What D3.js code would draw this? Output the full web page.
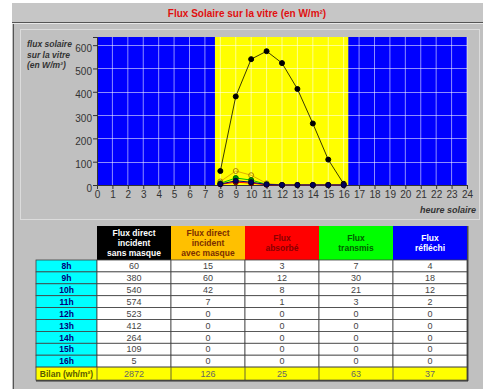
<!DOCTYPE html>
<html><head><meta charset="utf-8">
<script src="https://cdn.jsdelivr.net/npm/d3@7"></script>
<style>html,body{margin:0;padding:0;background:#fff;}svg{display:block;font-family:"Liberation Sans",Arial,sans-serif;}</style>
</head><body>
<svg id="c" width="483" height="389"></svg>
<script>
// ---- data ----
const hours = [8, 9, 10, 11, 12, 13, 14, 15, 16];
const rowLabels = ["8h","9h","10h","11h","12h","13h","14h","15h","16h"];
const sansMasque = [60, 380, 540, 574, 523, 412, 264, 109, 5];
const avecMasque = [15, 60, 42, 7, 0, 0, 0, 0, 0];
const absorbe = [3, 12, 8, 1, 0, 0, 0, 0, 0];
const transmis = [7, 30, 21, 3, 0, 0, 0, 0, 0];
const reflechi = [4, 18, 12, 2, 0, 0, 0, 0, 0];
const bilan = [2872, 126, 25, 63, 37];
const headers = [["Flux direct","incident","sans masque"],["Flux direct","incident","avec masque"],["Flux","absorbé"],["Flux","transmis"],["Flux","réfléchi"]];
const yTicks = [0, 100, 200, 300, 400, 500, 600];
const xTicks = d3.range(0, 25);
const dayStart = 7.65, dayEnd = 16.3;

const svg = d3.select("#c");
// panels
svg.append("rect").attr("x",12).attr("y",3).attr("width",471).attr("height",386).attr("fill","#c0c0c0");
svg.append("rect").attr("x",12).attr("y",3).attr("width",471).attr("height",19).attr("fill","#c6c6c6");
svg.append("line").attr("x1",12).attr("x2",483).attr("y1",22.5).attr("y2",22.5).attr("stroke","#555");
svg.append("line").attr("x1",13.5).attr("x2",13.5).attr("y1",22).attr("y2",389).attr("stroke","#555");
svg.append("line").attr("x1",12).attr("x2",483).attr("y1",23.5).attr("y2",23.5).attr("stroke","#e8e8e8");
svg.append("rect").attr("x",20.5).attr("y",29.5).attr("width",459).attr("height",190).attr("fill","none").attr("stroke","#dcdcdc");
svg.append("text").attr("x",247).attr("y",17).attr("text-anchor","middle").attr("fill","#e01010")
  .attr("font-size",10).attr("font-weight","bold").text("Flux Solaire sur la vitre (en W/m²)");

// chart
const x = d3.scaleLinear().domain([0,24]).range([97,467]);
const y = d3.scaleLinear().domain([0,635]).range([185,37]);
const g = svg.append("g");
g.append("rect").attr("x",x(0)).attr("y",y(635)).attr("width",x(24)-x(0)).attr("height",y(0)-y(635)).attr("fill","#0000ff");
g.append("rect").attr("x",x(dayStart)).attr("y",y(635)).attr("width",x(dayEnd)-x(dayStart)).attr("height",y(0)-y(635)).attr("fill","#ffff00");
// grid
g.selectAll(".vg").data(xTicks.slice(1)).join("line").attr("x1",d=>x(d)).attr("x2",d=>x(d)).attr("y1",y(635)).attr("y2",y(0))
  .attr("stroke","#ffffff").attr("stroke-opacity",0.55).attr("stroke-width",1);
g.selectAll(".hg").data(yTicks.slice(1)).join("line").attr("x1",x(0)).attr("x2",x(24)).attr("y1",d=>Math.round(y(d))+0.5).attr("y2",d=>Math.round(y(d))+0.5)
  .attr("stroke","#ffffff").attr("stroke-opacity",0.55).attr("stroke-width",1);

// axes
const xa = g.append("g").attr("transform",`translate(0,${y(0)})`).call(d3.axisBottom(x).tickValues(xTicks).tickSize(4).tickPadding(2).tickFormat(d3.format("d")));
const ya = g.append("g").attr("transform",`translate(${x(0)},0)`).call(d3.axisLeft(y).tickValues(yTicks).tickSize(4).tickPadding(1).tickFormat(d3.format("d")));
[xa,ya].forEach(a=>{a.select(".domain").attr("stroke","#333");a.selectAll(".tick line").attr("stroke","#333");
  a.selectAll("text").attr("fill","#333").attr("font-size",10).attr("font-family","Liberation Sans, Arial, sans-serif");});
ya.selectAll("text").attr("dy","0.6em");

// y label
const yl = svg.append("text").attr("x",27).attr("y",47).attr("fill","#333").attr("font-size",8.5).attr("font-weight","bold").attr("font-style","italic");
["flux solaire","sur la vitre","(en W/m²)"].forEach((t,i)=>yl.append("tspan").attr("x",27).attr("dy",i?10.5:0).text(t));
svg.append("text").attr("x",476).attr("y",213).attr("text-anchor","end").attr("fill","#333").attr("font-size",9).attr("font-weight","bold").attr("font-style","italic").text("heure solaire");

// series
const series = [
  {v:sansMasque, line:"#3a3a00", fill:"#000", stroke:"#000"},
  {v:avecMasque, line:"#e0b000", fill:"none", stroke:"#b08000"},
  {v:transmis, line:"#00c000", fill:"#00a000", stroke:"#006000"},
  {v:absorbe, line:"#ff0000", fill:"#c00000", stroke:"#600000"},
  {v:reflechi, line:"#000080", fill:"#000060", stroke:"#000030"}
];
const line = d3.line().x((d,i)=>x(hours[i])).y(d=>y(d));
series.forEach(s=>{
  g.append("path").datum(s.v).attr("d",line).attr("fill","none").attr("stroke",s.line).attr("stroke-width",1);
});
series.forEach(s=>{
  g.selectAll(null).data(s.v).join("circle").attr("cx",(d,i)=>x(hours[i])).attr("cy",d=>y(d)).attr("r",2.5)
    .attr("fill",s.fill).attr("stroke",s.stroke).attr("stroke-width",1);
});

// table
const colX = [97,171,245,319,393,467];
const labX0 = 36;
const hTop = 226, hBot = 260, rowH = 11.9;
const hdrFill = ["#000000","#ffc000","#ff0000","#00ff00","#0000ff"];
const hdrText = ["#ffffff","#7a2e00","#8a0000","#006000","#ffffff"];
const t = svg.append("g");
headers.forEach((h,c)=>{
  t.append("rect").attr("x",colX[c]).attr("y",hTop).attr("width",colX[c+1]-colX[c]).attr("height",hBot-hTop).attr("fill",hdrFill[c]);
  const cy = (hTop+hBot)/2 - (h.length-1)*10/2 + 3;
  h.forEach((s,k)=>t.append("text").attr("x",(colX[c]+colX[c+1])/2).attr("y",cy+k*10).attr("text-anchor","middle")
    .attr("fill",hdrText[c]).attr("font-size",8.5).attr("font-weight","bold").text(s));
});
const cols = [sansMasque, avecMasque, absorbe, transmis, reflechi];
rowLabels.forEach((lab,r)=>{
  const ry = hBot + r*rowH;
  t.append("rect").attr("x",labX0).attr("y",ry).attr("width",colX[0]-labX0).attr("height",rowH).attr("fill","#00ffff").attr("stroke","#404040").attr("stroke-width",0.8);
  t.append("text").attr("x",(labX0+colX[0])/2).attr("y",ry+rowH/2+3.2).attr("text-anchor","middle").attr("fill","#00007a")
    .attr("font-size",8.5).attr("font-weight","bold").text(lab);
  cols.forEach((col,c)=>{
    t.append("rect").attr("x",colX[c]).attr("y",ry).attr("width",colX[c+1]-colX[c]).attr("height",rowH).attr("fill","#ffffff").attr("stroke","#404040").attr("stroke-width",0.8);
    t.append("text").attr("x",(colX[c]+colX[c+1])/2).attr("y",ry+rowH/2+3.2).attr("text-anchor","middle").attr("fill","#444")
      .attr("font-size",9).text(col[r]);
  });
});
const by = hBot + rowLabels.length*rowH;
t.append("rect").attr("x",labX0).attr("y",by).attr("width",colX[5]-labX0).attr("height",13).attr("fill","#ffff00").attr("stroke","#404040").attr("stroke-width",0.8);
t.append("text").attr("x",(labX0+colX[0])/2).attr("y",by+9.5).attr("text-anchor","middle").attr("fill","#5a5a00").attr("font-size",8.5).attr("font-weight","bold").text("Bilan (wh/m²)");
bilan.forEach((v,c)=>{
  t.append("line").attr("x1",colX[c]).attr("x2",colX[c]).attr("y1",by).attr("y2",by+13).attr("stroke","#404040").attr("stroke-width",0.8);
  t.append("text").attr("x",(colX[c]+colX[c+1])/2).attr("y",by+9.5).attr("text-anchor","middle").attr("fill","#666").attr("font-size",9).text(v);
});
t.append("line").attr("x1",labX0).attr("x2",colX[5]+1).attr("y1",by+13.8).attr("y2",by+13.8).attr("stroke","#303030").attr("stroke-width",1.2);
t.append("line").attr("x1",colX[5]+0.8).attr("x2",colX[5]+0.8).attr("y1",hTop).attr("y2",by+14).attr("stroke","#303030").attr("stroke-width",1.2);
</script>
</body></html>
